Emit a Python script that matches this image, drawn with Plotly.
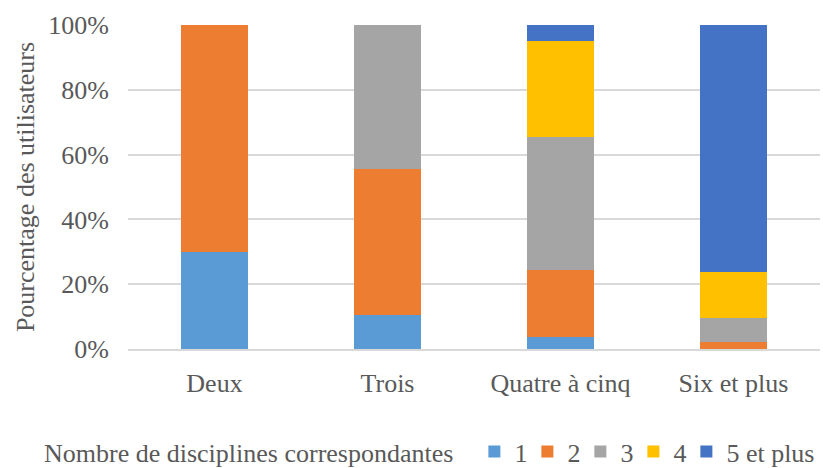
import plotly.graph_objects as go

categories = ["Deux", "Trois", "Quatre à cinq", "Six et plus"]
series_names = ["1", "2", "3", "4", "5 et plus"]
share_1 = [30.0, 10.5, 3.7, 0.0]
share_2 = [70.0, 45.1, 20.8, 2.3]
share_3 = [0.0, 44.4, 41.0, 7.4]
share_4 = [0.0, 0.0, 29.5, 14.2]
share_5 = [0.0, 0.0, 5.0, 76.1]
colors = ["#5b9bd5", "#ed7d31", "#a5a5a5", "#ffc000", "#4472c4"]

font_family = "Liberation Serif"
text_color = "#595959"
text_font = dict(family=font_family, size=26, color=text_color)

fig = go.Figure()
for name, vals, col in zip(series_names, [share_1, share_2, share_3, share_4, share_5], colors):
    fig.add_trace(go.Bar(
        x=categories, y=vals, name=name,
        marker=dict(color=col, line=dict(width=0)),
        width=0.39,
        # the longer last label needs its own legend entry width
        legendwidth=100 if len(name) > 2 else None,
    ))

fig.update_layout(
    barmode="stack",
    width=823, height=468,
    margin=dict(l=128, r=3, t=25, b=119, autoexpand=False),
    plot_bgcolor="white", paper_bgcolor="white",
    font=text_font,
    yaxis=dict(
        range=[0, 100], tickvals=[0, 20, 40, 60, 80, 100],
        ticktext=["0%", "20%", "40%", "60%", "80%", "100%"],
        tickfont=text_font,
        showgrid=True, gridcolor="#d9d9d9", gridwidth=1.5,
        zeroline=False, ticks="", ticklen=0, ticklabelstandoff=18,
        automargin=False,
        title=dict(text="Pourcentage des utilisateurs", standoff=6, font=text_font),
    ),
    xaxis=dict(showline=True, linecolor="#d9d9d9", linewidth=1.5, ticks="",
               tickfont=text_font, ticklabelstandoff=10, automargin=False),
    legend=dict(
        orientation="h", x=-0.1243, xanchor="left", y=-0.317, yanchor="middle",
        font=text_font,
        title=dict(text="Nombre de disciplines correspondantes\u00a0\u00a0",
                   side="left", font=text_font),
        traceorder="normal", itemwidth=30, tracegroupgap=0,
        entrywidth=8, entrywidthmode="pixels",
    ),
    bargap=0.61,
)

fig.write_html("out.html")
